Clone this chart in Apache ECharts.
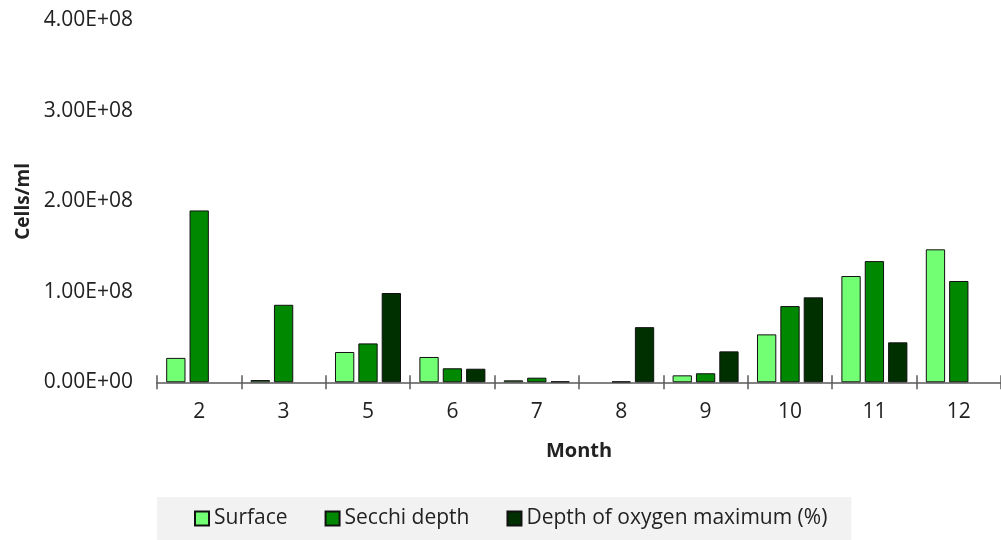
<!DOCTYPE html>
<html>
<head>
<meta charset="utf-8">
<script src="https://cdn.jsdelivr.net/npm/echarts@6/dist/echarts.min.js"></script>
<style>
html,body{margin:0;padding:0;background:#fff;}
#chart{width:1001px;height:540px;}
</style>
</head>
<body>
<div id="chart"></div>
<script>
const months = ['2', '3', '5', '6', '7', '8', '9', '10', '11', '12'];
const surface = [2.7e7, 2.5e6, 3.35e7, 2.8e7, 2.2e6, null, 7.7e6, 5.3e7, 1.175e8, 1.47e8];
const secchi = [1.90e8, 8.57e7, 4.3e7, 1.55e7, 5.1e6, 1.0e6, 1.0e7, 8.43e7, 1.34e8, 1.12e8];
const oxygen = [null, null, 9.87e7, 1.5e7, 1.1e6, 6.1e7, 3.42e7, 9.39e7, 4.42e7, null];
const yTickLabels = ['0.00E+00', '1.00E+08', '2.00E+08', '3.00E+08', '4.00E+08'];
const seriesNames = ['Surface', 'Secchi depth', 'Depth of oxygen maximum (%)'];

const FONT = '"Open Sans", sans-serif';
const colors = ['#73ff73', '#008800', '#003000'];
const seriesData = [surface, secchi, oxygen];

const chart = echarts.init(document.getElementById('chart'), null, {renderer: 'canvas'});
chart.setOption({
  animation: false,
  backgroundColor: '#ffffff',
  grid: {left: 157, right: -2, top: 20.5, bottom: 157.7, containLabel: false},
  legend: {
    left: 157, top: 497,
    backgroundColor: '#f2f2f2',
    padding: [11, 24, 11, 37],
    itemWidth: 14, itemHeight: 14, itemGap: 37,
    icon: 'rect',
    textStyle: {fontFamily: FONT, fontSize: 21, color: '#222', lineHeight: 20},
    data: seriesNames
  },
  xAxis: [{
    type: 'category',
    data: months,
    position: 'bottom',
    axisLine: {show: true, lineStyle: {color: '#595959', width: 1.5}},
    axisTick: {show: true, length: 7, lineStyle: {color: '#595959', width: 1.5}},
    axisLabel: {fontFamily: FONT, fontSize: 21, color: '#222', margin: 19},
    name: 'Month', nameLocation: 'middle', nameGap: 59,
    nameTextStyle: {fontFamily: FONT, fontSize: 20, fontWeight: 'bold', color: '#222'}
  }, {
    type: 'category',
    data: months,
    position: 'bottom',
    axisLine: {show: false},
    axisTick: {show: true, inside: true, length: 7, lineStyle: {color: '#595959', width: 1.5}},
    axisLabel: {show: false}
  }],
  yAxis: {
    type: 'value', min: 0, max: 4e8, interval: 1e8,
    axisLine: {show: false}, axisTick: {show: false}, splitLine: {show: false},
    axisLabel: {
      fontFamily: FONT, fontSize: 21, color: '#222', margin: 24,
      formatter: function (v) { return yTickLabels[Math.round(v / 1e8)]; }
    },
    name: 'Cells/ml', nameLocation: 'middle', nameGap: 124, nameRotate: 90,
    nameTextStyle: {fontFamily: FONT, fontSize: 19, fontWeight: 'bold', color: '#222'}
  },
  series: seriesNames.map(function (n, i) {
    return {
      name: n, type: 'bar', xAxisIndex: 0,
      data: seriesData[i],
      barWidth: 19.3, barGap: '21%',
      itemStyle: {color: colors[i], borderColor: '#111', borderWidth: 1}
    };
  })
});
</script>
</body>
</html>
